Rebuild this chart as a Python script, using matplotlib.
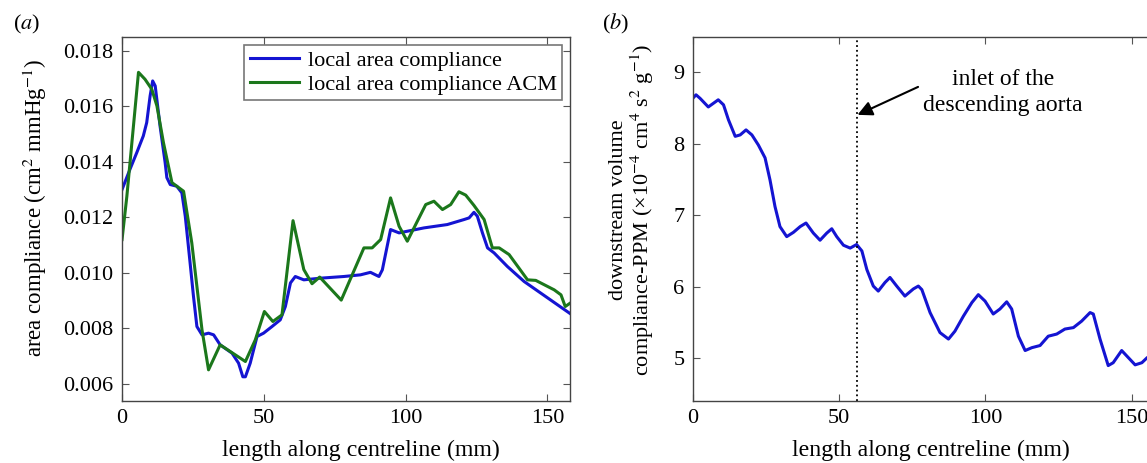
import matplotlib
matplotlib.use("Agg")
import matplotlib.pyplot as plt

# panel (a): local area compliance along the centreline
a_len = [0, 2.8, 5.2, 7.5, 8.7, 9.9, 10.8, 11.7, 13.4, 15.2, 15.8, 17.0, 19.3, 21.1,
         22.3, 24.0, 25.2, 26.4, 28.2, 30.5, 32.3, 34.6, 38.8, 41.1, 42.6, 43.5,
         45.2, 47.6, 49.9, 52.9, 55.8, 57.6, 59.4, 61.1, 64.1, 70.0, 78.2, 84.1,
         87.6, 90.6, 91.8, 94.7, 97.7, 106.5, 114.7, 120.6, 122.4, 124.1, 125.3,
         127.1, 128.9, 131.2, 135.9, 141.8, 147.7, 153.6, 158.1]
a_local = [0.01300, 0.01373, 0.01433, 0.01493, 0.01541, 0.01637, 0.01691, 0.01673,
           0.01529, 0.01397, 0.01343, 0.01318, 0.01312, 0.01288, 0.01204, 0.01036,
           0.00915, 0.00807, 0.00777, 0.00783, 0.00777, 0.00741, 0.00711, 0.00675,
           0.00626, 0.00626, 0.00675, 0.00771, 0.00783, 0.00807, 0.00831, 0.00879,
           0.00964, 0.00987, 0.00975, 0.00981, 0.00987, 0.00993, 0.01002, 0.00987,
           0.01011, 0.01156, 0.01144, 0.01162, 0.01174, 0.01192, 0.01198, 0.01218,
           0.01204, 0.01144, 0.01090, 0.01072, 0.01023, 0.00969, 0.00927, 0.00885,
           0.00853]

acm_len = [0, 1.7, 5.8, 8.1, 10.5, 12.3, 14.6, 17.6, 21.7, 24.6, 28.2, 30.5, 34.6,
           43.5, 47.0, 50.2, 53.2, 56.4, 60.3, 64.1, 67.0, 69.7, 77.3, 85.3, 88.2,
           91.2, 94.7, 97.7, 100.6, 107.1, 110.0, 113.0, 115.9, 118.8, 121.2, 124.1,
           127.7, 130.6, 133.0, 136.5, 143.0, 145.9, 152.4, 154.8, 156.3, 158.3]
acm_vals = [0.01120, 0.01276, 0.01722, 0.01697, 0.01661, 0.01601, 0.01469, 0.01325,
            0.01294, 0.01108, 0.00795, 0.00651, 0.00741, 0.00681, 0.00759, 0.00861,
            0.00825, 0.00849, 0.01188, 0.01012, 0.00961, 0.00985, 0.00902, 0.01090,
            0.01090, 0.01120, 0.01270, 0.01168, 0.01114, 0.01246, 0.01258, 0.01228,
            0.01246, 0.01292, 0.01280, 0.01243, 0.01192, 0.01090, 0.01090, 0.01066,
            0.00975, 0.00973, 0.00939, 0.00921, 0.00879, 0.00893]

# panel (b): downstream volume compliance-PPM
b_len = [0, 1.1, 2.5, 5.3, 7.0, 8.7, 10.5, 12.2, 14.5, 16.2, 18.2, 20.2, 22.4, 24.7,
         26.4, 28.1, 29.8, 32.1, 34.4, 36.7, 38.7, 41.2, 43.5, 45.8, 47.5, 49.2,
         51.5, 53.8, 56.0, 57.8, 59.5, 61.7, 63.4, 65.7, 67.4, 69.7, 72.5, 75.4,
         77.1, 78.3, 81.1, 84.5, 87.4, 89.6, 92.5, 95.4, 97.6, 99.9, 102.7, 105.0,
         107.3, 109.0, 111.3, 113.6, 115.9, 118.7, 121.5, 124.4, 127.2, 130.1,
         132.9, 135.8, 136.9, 139.2, 142.0, 143.7, 146.6, 148.9, 151.2, 153.5,
         155.3, 158.0]
b_ppm = [8.63, 8.68, 8.63, 8.51, 8.56, 8.61, 8.54, 8.33, 8.10, 8.12, 8.19, 8.12, 7.98,
         7.80, 7.49, 7.12, 6.84, 6.70, 6.76, 6.84, 6.89, 6.75, 6.65, 6.75, 6.81, 6.70,
         6.58, 6.54, 6.59, 6.50, 6.24, 6.01, 5.94, 6.06, 6.13, 6.01, 5.87, 5.97, 6.01,
         5.96, 5.64, 5.36, 5.27, 5.38, 5.59, 5.78, 5.89, 5.80, 5.62, 5.69, 5.79, 5.69,
         5.31, 5.11, 5.15, 5.18, 5.31, 5.34, 5.41, 5.43, 5.52, 5.64, 5.62, 5.27, 4.90,
         4.94, 5.11, 5.01, 4.91, 4.94, 5.01, 5.08]

inlet_x = 56.0

plt.rcParams["font.family"] = ["Liberation Serif", "DejaVu Serif"]
plt.rcParams["mathtext.fontset"] = "stix"
FS = 16
LFS = 17.2

fig = plt.figure(figsize=(11.47, 4.63), dpi=100)
ax1 = fig.add_axes([0.1064, 0.1346, 0.3906, 0.786])
ax2 = fig.add_axes([0.604, 0.1346, 0.403, 0.786])

blue = "#1414d2"
green = "#1b771b"

ax1.plot(a_len, a_local, color=blue, lw=2.2, label="local area compliance",
         solid_joinstyle="round")
ax1.plot(acm_len, acm_vals, color=green, lw=2.2, label="local area compliance ACM")
ax1.set_xlim(0, 158)
ax1.set_ylim(0.0054, 0.0185)
ax1.set_xticks([0, 50, 100, 150])
ax1.set_yticks([0.006, 0.008, 0.010, 0.012, 0.014, 0.016, 0.018])
ax1.set_yticklabels(["%.3f" % v for v in ax1.get_yticks()])
ax1.set_xlabel("length along centreline (mm)", fontsize=LFS)
ax1.set_ylabel(r"area compliance (cm$^2$ mmHg$^{-1}$)", fontsize=16.5)
ax1.yaxis.set_label_coords(-0.164, 0.53)
ax1.xaxis.set_label_coords(0.533, -0.108)
leg = ax1.legend(loc="upper right", fontsize=FS, frameon=True, fancybox=False,
                 edgecolor="#555555", borderpad=0.25, labelspacing=0.15,
                 handlelength=2.2, handletextpad=0.4, borderaxespad=0.35)
leg.get_frame().set_linewidth(1.2)

ax2.plot(b_len, b_ppm, color=blue, lw=2.2, solid_joinstyle="round")
ax2.axvline(inlet_x, color="black", ls=":", lw=1.3)
ax2.set_xlim(0, 158)
ax2.set_ylim(4.41, 9.49)
ax2.set_xticks([0, 50, 100, 150])
ax2.set_yticks([5, 6, 7, 8, 9])
ax2.set_xlabel("length along centreline (mm)", fontsize=LFS)
ax2.set_ylabel("downstream volume\n"
               r"compliance-PPM (×10$^{-4}$ cm$^4$ s$^2$ g$^{-1}$)", fontsize=16,
               linespacing=1.05)
ax2.yaxis.set_label_coords(-0.079, 0.525)
ax2.xaxis.set_label_coords(0.514, -0.108)
ax2.annotate("", xy=(inlet_x + 0.3, 8.40), xytext=(77.0, 8.79),
             arrowprops=dict(arrowstyle="-|>", color="black", lw=1.5,
                             mutation_scale=22, shrinkA=0, shrinkB=0))
ax2.text(106, 8.71, "inlet of the\ndescending aorta", fontsize=17,
         ha="center", va="center", linespacing=1.35)

for ax in (ax1, ax2):
    ax.tick_params(direction="in", top=True, right=True, length=5, width=0.8,
                   colors="#555555", labelcolor="black", labelsize=FS, pad=6)
    for sp in ax.spines.values():
        sp.set_color("#444444")
        sp.set_linewidth(1.0)

fig.text(0.011, 0.948, r"($a$)", fontsize=FS, va="center")
fig.text(0.525, 0.948, r"($b$)", fontsize=FS, va="center")

fig.savefig("out.png", dpi=100)
